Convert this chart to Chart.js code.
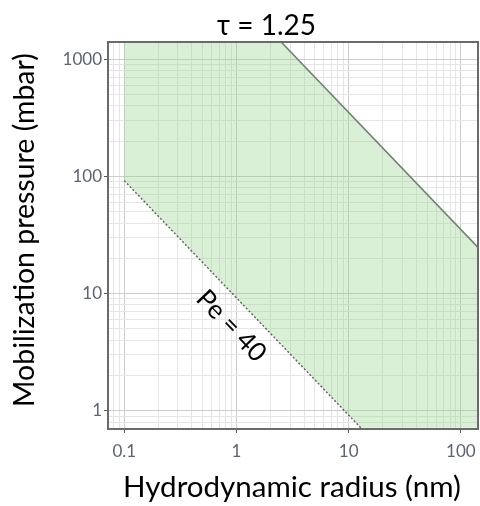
<!DOCTYPE html>
<html>
<head>
<meta charset="utf-8">
<script src="https://cdn.jsdelivr.net/npm/chart.js@4.4.1/dist/chart.umd.min.js"></script>
<style>
  html, body { margin: 0; padding: 0; background: #ffffff; }
  #wrap { width: 480px; height: 506px; }
</style>
</head>
<body>
<div id="wrap"><canvas id="c" width="480" height="506"></canvas></div>
<script>
// ---- chart text ----
const titleText = 'τ = 1.25';
const xTitle = 'Hydrodynamic radius (nm)';
const yTitle = 'Mobilization pressure (mbar)';
const xTickValues = [0.1, 1, 10, 100];
const xTickLabels = ['0.1', '1', '10', '100'];
const yTickValues = [1, 10, 100, 1000];
const yTickLabels = ['1', '10', '100', '1000'];

// ---- axis extents (log scales) ----
const xRange = [0.0716, 142];
const yRange = [0.717, 1400];

// ---- Pe = 40 boundary (dotted line) ----
const peX = [0.1, 12.8];
const peY = [92, 0.717];

// ---- upper boundary (solid line) ----
const upX = [2.5, 142];
const upY = [1400, 24.8];

// ---- shaded operating window, corners in drawing order ----
const regionX = [0.1, 0.1, 2.5, 142, 142, 12.8];
const regionY = [92, 1400, 1400, 24.8, 0.717, 0.717];

// ---- line annotation ----
const peLabel = 'Pe = 40';
const peLabelAt = [0.9, 5.3];

const FONT = 'Lato, "Open Sans", sans-serif';
const zip = (xs, ys) => xs.map((x, i) => ({ x, y: ys[i] }));

function isDecade(v) {
  const l = Math.log10(v);
  return Math.abs(l - Math.round(l)) < 1e-9;
}
// 1..9 x 10^n grid positions inside an axis range
function logGrid(min, max) {
  const out = [];
  for (let e = Math.floor(Math.log10(min)); e <= Math.ceil(Math.log10(max)); e++) {
    for (let m = 1; m <= 9; m++) {
      const v = parseFloat((m * Math.pow(10, e)).toPrecision(6));
      if (v > min && v < max) out.push(v);
    }
  }
  return out;
}
function labelFor(values, labels, v) {
  const i = values.findIndex(t => Math.abs(t - v) / t < 1e-9);
  return i >= 0 ? labels[i] : '';
}
// font size so that a string spans a given width
function fitSize(ctx, text, width) {
  ctx.font = `100px ${FONT}`;
  return 100 * width / ctx.measureText(text).width;
}

const frameAndText = {
  id: 'frameAndText',
  afterDatasetsDraw(chart) {
    const { ctx, chartArea: a, scales } = chart;
    ctx.save();
    // panel frame
    ctx.strokeStyle = '#6a6a6a';
    ctx.lineWidth = 2;
    ctx.strokeRect(a.left, a.top, a.right - a.left, a.bottom - a.top);

    // annotation along the Pe line
    const p0 = { x: scales.x.getPixelForValue(peX[0]), y: scales.y.getPixelForValue(peY[0]) };
    const p1 = { x: scales.x.getPixelForValue(peX[1]), y: scales.y.getPixelForValue(peY[1]) };
    const ang = Math.atan2(p1.y - p0.y, p1.x - p0.x);
    const lx = scales.x.getPixelForValue(peLabelAt[0]);
    const ly = scales.y.getPixelForValue(peLabelAt[1]);
    ctx.translate(lx, ly);
    ctx.rotate(ang);
    ctx.fillStyle = '#000000';
    ctx.textAlign = 'center';
    ctx.textBaseline = 'middle';
    ctx.font = `${fitSize(ctx, peLabel, 88)}px ${FONT}`;
    ctx.fillText(peLabel, 0, 0);
    ctx.restore();
  },
  afterDraw(chart) {
    const { ctx } = chart;
    ctx.save();
    ctx.fillStyle = '#000000';
    ctx.textAlign = 'center';
    ctx.textBaseline = 'alphabetic';

    ctx.font = `${fitSize(ctx, titleText, 99)}px ${FONT}`;
    ctx.fillText(titleText, 266.5, 35);

    ctx.font = `${fitSize(ctx, xTitle, 338)}px ${FONT}`;
    ctx.fillText(xTitle, 292, 497);

    ctx.translate(33.5, 230);
    ctx.rotate(-Math.PI / 2);
    ctx.font = `${fitSize(ctx, yTitle, 354)}px ${FONT}`;
    ctx.fillText(yTitle, 0, 0);
    ctx.restore();
  }
};

function axis(range, values, labels, isX) {
  return {
    type: 'logarithmic',
    min: range[0],
    max: range[1],
    afterBuildTicks(scale) {
      scale.ticks = logGrid(range[0], range[1]).map(v => ({ value: v, major: isDecade(v) }));
    },
    afterFit(scale) {
      if (isX) {
        scale.height = 77;
        scale.paddingLeft = 0;
        scale.paddingRight = 0;
      } else {
        scale.width = 108;
        scale.paddingTop = 0;
        scale.paddingBottom = 0;
      }
    },
    border: { display: false },
    grid: {
      color: c => (c.tick && isDecade(c.tick.value)) ? '#cdcdcd' : '#e6e6e6',
      lineWidth: 1,
      drawTicks: true,
      tickLength: 4,
      tickWidth: 1,
      tickColor: c => (c.tick && isDecade(c.tick.value)) ? '#555555' : 'rgba(0,0,0,0)'
    },
    ticks: {
      autoSkip: false,
      maxRotation: 0,
      minRotation: 0,
      padding: isX ? 8 : 2,
      color: '#5b6470',
      font: { family: FONT, size: 17 },
      callback: v => labelFor(values, labels, v)
    }
  };
}

new Chart(document.getElementById('c'), {
  type: 'scatter',
  data: {
    datasets: [
      {
        label: 'Pe = 40',
        data: zip(peX, peY),
        showLine: true,
        borderColor: '#5e5e5e',
        borderWidth: 1.4,
        borderDash: [2, 2],
        pointRadius: 0,
        fill: false
      },
      {
        label: 'upper',
        data: zip(upX, upY),
        showLine: true,
        borderColor: '#738073',
        borderWidth: 1.6,
        pointRadius: 0,
        fill: false
      },
      {
        label: 'window',
        data: zip(regionX, regionY),
        showLine: true,
        borderWidth: 0,
        borderColor: 'rgba(0,0,0,0)',
        backgroundColor: 'rgba(140, 205, 130, 0.33)',
        pointRadius: 0,
        fill: 'shape'
      }
    ]
  },
  options: {
    responsive: false,
    animation: false,
    devicePixelRatio: 1,
    layout: { padding: { top: 42, right: 2, left: 0, bottom: 0 } },
    plugins: {
      legend: { display: false },
      tooltip: { enabled: false },
      title: { display: false }
    },
    scales: {
      x: axis(xRange, xTickValues, xTickLabels, true),
      y: axis(yRange, yTickValues, yTickLabels, false)
    }
  },
  plugins: [frameAndText]
});
</script>
</body>
</html>
